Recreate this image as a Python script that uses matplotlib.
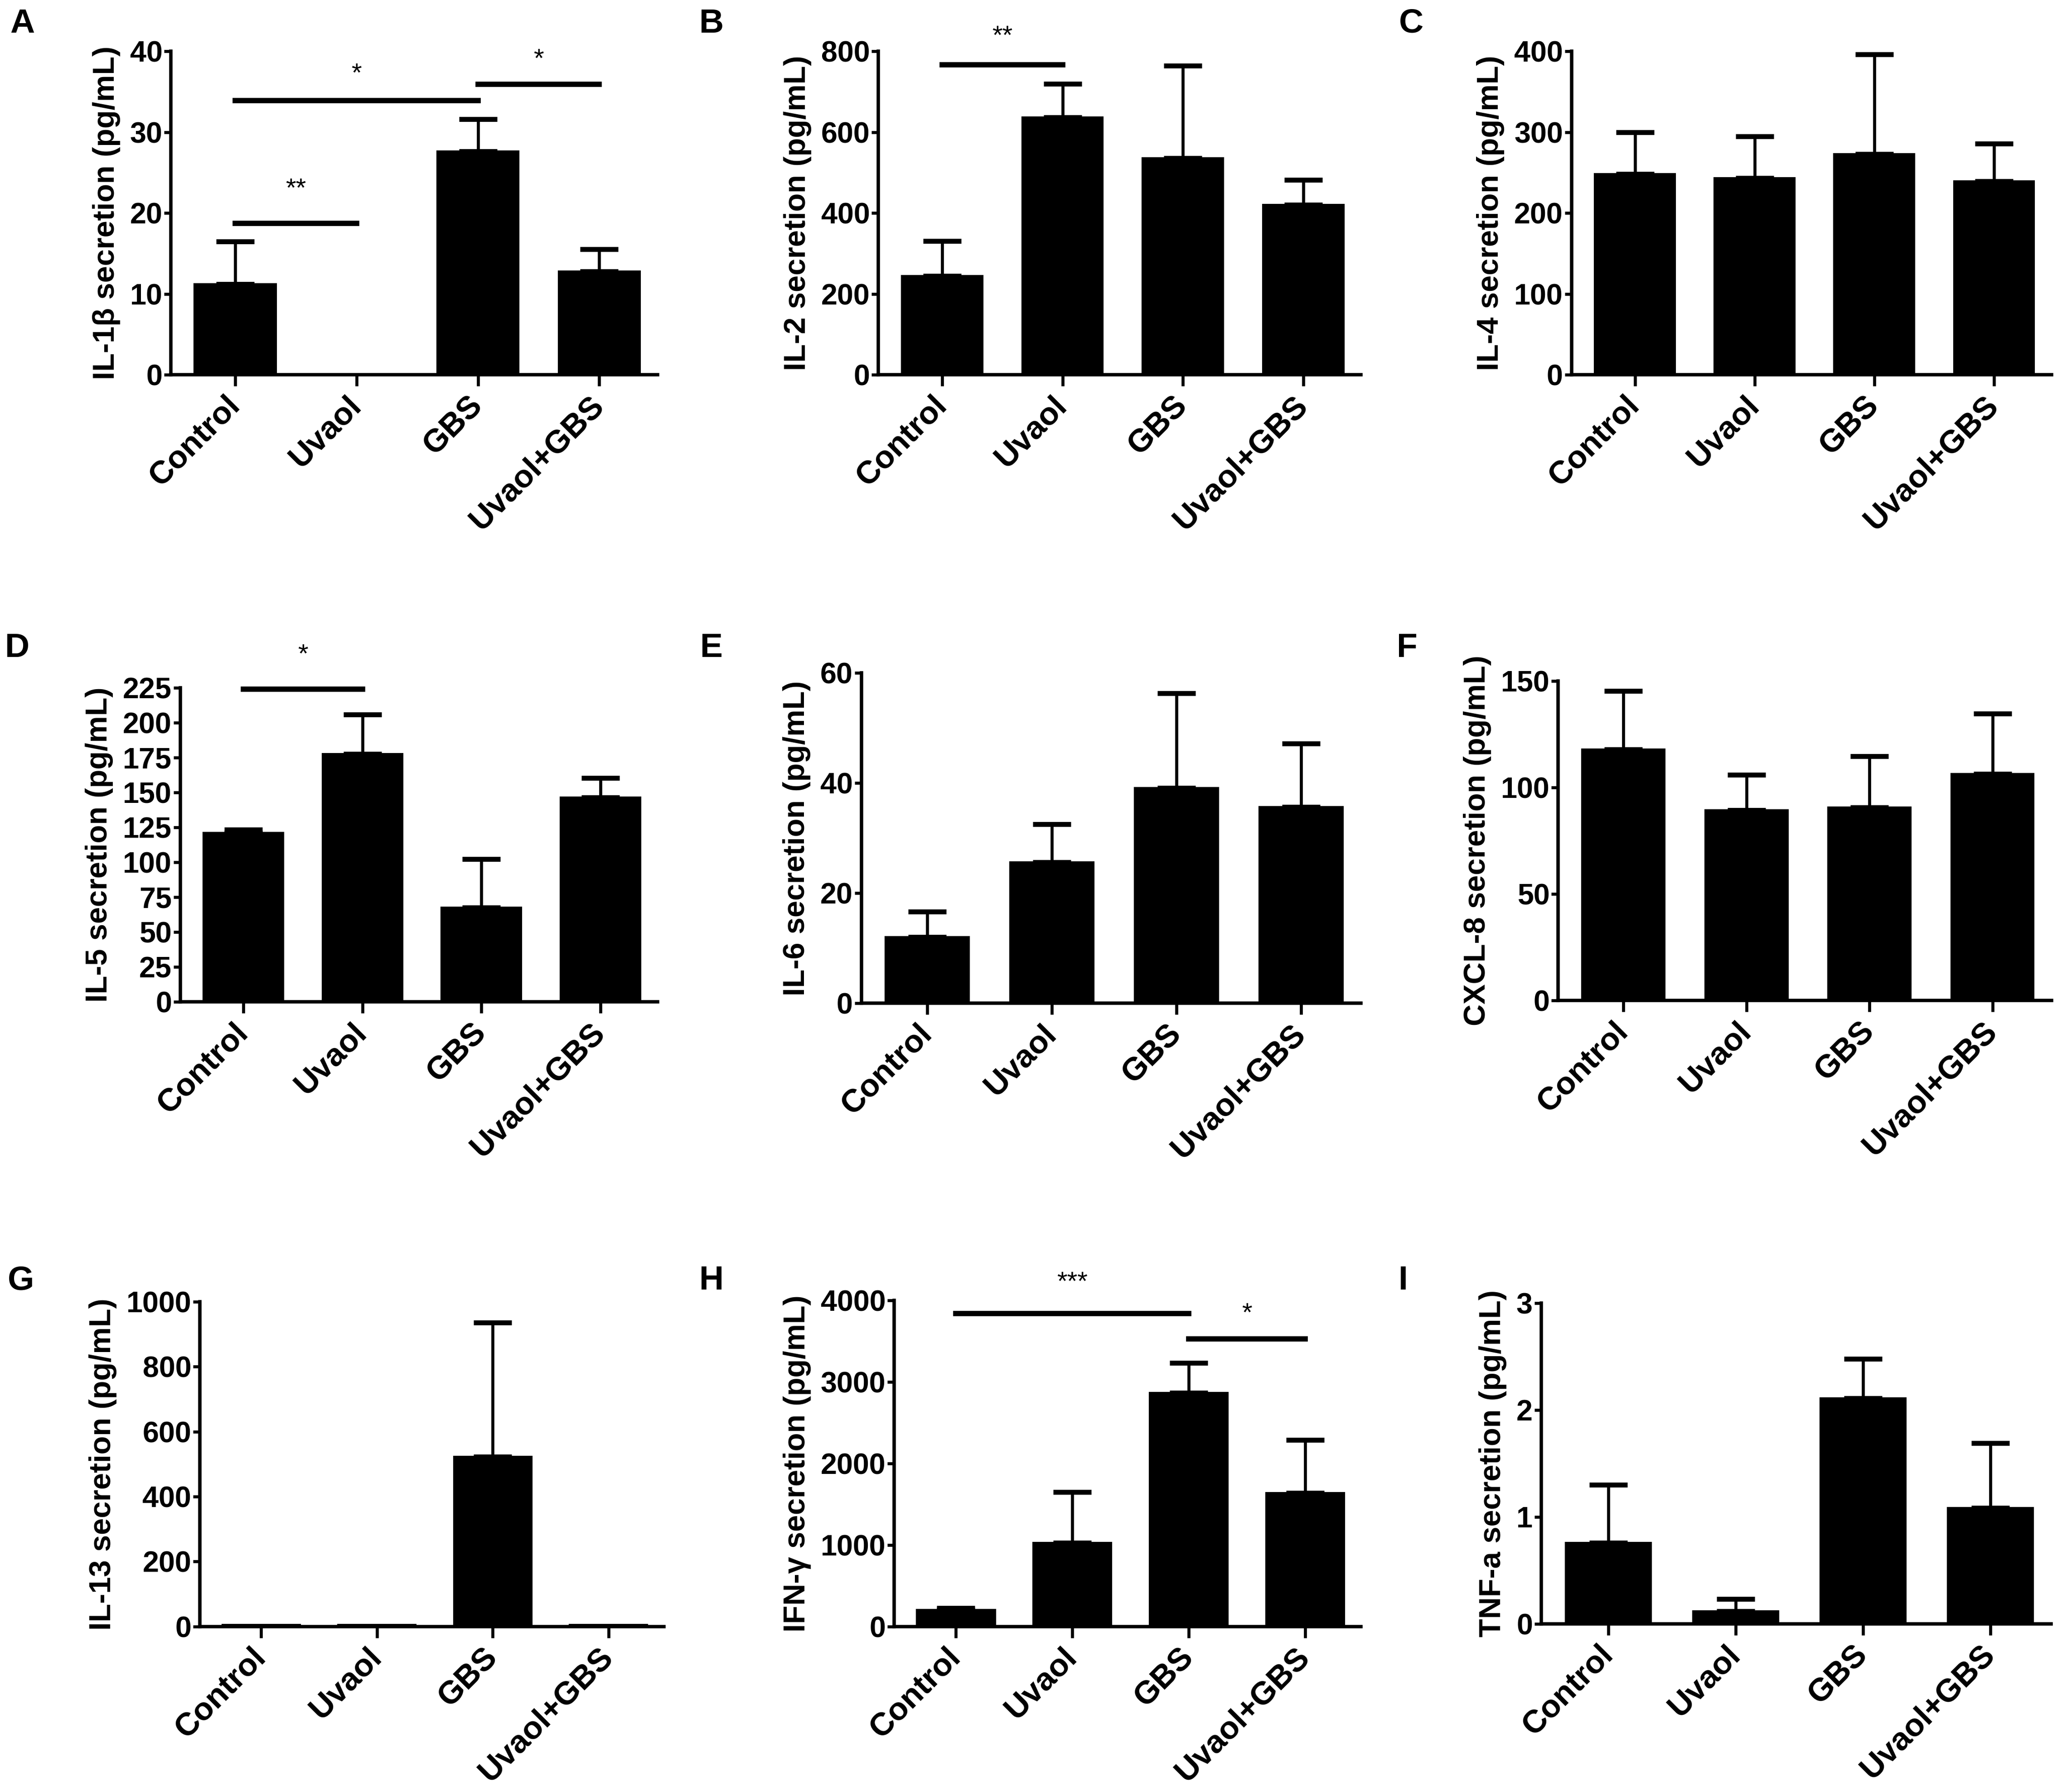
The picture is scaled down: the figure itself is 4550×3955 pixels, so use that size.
import numpy as np
import matplotlib
matplotlib.use('Agg')
import matplotlib.pyplot as plt

plt.rcParams['font.family'] = ['Liberation Sans', 'DejaVu Sans']
plt.rcParams['font.weight'] = 'bold'

groups = ['Control', 'Uvaol', 'GBS', 'Uvaol+GBS']

# means and upper SEM
il1b = [11.2, 0.0, 27.6, 12.8]
il1b_err = [5.3, 0.0, 4.0, 2.7]
il2 = [244, 637, 536, 420]
il2_err = [87, 83, 228, 62]
il4 = [248, 243, 273, 239]
il4_err = [52, 52, 123, 47]
il5 = [121, 177.6, 67.4, 146.3]
il5_err = [2.4, 28, 35, 14]
il6 = [12.0, 25.6, 39.1, 35.7]
il6_err = [4.6, 6.9, 17.2, 11.5]
cxcl8 = [117.9, 89.3, 90.7, 106.4]
cxcl8_err = [27.3, 16.6, 24.0, 28.2]
il13 = [5, 5, 523, 5]
il13_err = [0, 0, 413, 0]
ifng = [205, 1024, 2864, 1639]
ifng_err = [22, 624, 370, 646]
tnfa = [0.755, 0.119, 2.109, 1.082]
tnfa_err = [0.545, 0.112, 0.367, 0.608]

ylabels = ['IL-1β secretion (pg/mL)', 'IL-2 secretion (pg/mL)', 'IL-4 secretion (pg/mL)',
           'IL-5 secretion (pg/mL)', 'IL-6 secretion (pg/mL)', 'CXCL-8 secretion (pg/mL)',
           'IL-13 secretion (pg/mL)', 'IFN-γ secretion (pg/mL)', 'TNF-a secretion (pg/mL)']
letters = ['A', 'B', 'C', 'D', 'E', 'F', 'G', 'H', 'I']
ytops = [40, 800, 400, 225, 60, 150, 1000, 4000, 3]
ysteps = [10, 200, 100, 25, 20, 50, 200, 1000, 1]

# significance bars: (from group, to group, line height, star height, label)
sig = {
    0: [(0, 1, 18.7, 22.9, '**'), (0, 2, 33.9, 37.1, '*'), (2, 3, 35.9, 38.9, '*')],
    1: [(0, 1, 767, 835, '**')],
    3: [(0, 1, 224, 248, '*')],
    7: [(0, 2, 3839, 4210, '***'), (2, 3, 3527, 3830, '*')],
}

data = [(il1b, il1b_err), (il2, il2_err), (il4, il4_err), (il5, il5_err), (il6, il6_err),
        (cxcl8, cxcl8_err), (il13, il13_err), (ifng, ifng_err), (tnfa, tnfa_err)]

# axes boxes (left, bottom, width, height) in figure fraction
boxes = [
    (0.0829, 0.7909, 0.2360, 0.1805), (0.4260, 0.7909, 0.2340, 0.1805), (0.7621, 0.7909, 0.2328, 0.1805),
    (0.0874, 0.4409, 0.2315, 0.1754), (0.4177, 0.4402, 0.2423, 0.1842), (0.7557, 0.4417, 0.2392, 0.1783),
    (0.0969, 0.0924, 0.2251, 0.1812), (0.4337, 0.0924, 0.2264, 0.1820), (0.7474, 0.0939, 0.2474, 0.1790),
]
letter_pos = [(0.0108, 0.9868), (0.345, 0.9868), (0.6843, 0.9868),
              (0.0083, 0.6383), (0.345, 0.6383), (0.6824, 0.6383),
              (0.0102, 0.2853), (0.345, 0.2853), (0.6805, 0.2853)]

fig = plt.figure(figsize=(4550 / 300, 3955 / 300), dpi=300)
x = np.arange(len(groups))

for k in range(9):
    ax = fig.add_axes(boxes[k])
    vals, errs = data[k]
    ax.bar(x, vals, width=0.67, color='black', edgecolor='black', zorder=2)
    keep = [i for i in range(4) if errs[i] > 0]
    ax.errorbar(x[keep], np.array(vals)[keep],
                yerr=[np.zeros(len(keep)), np.array(errs)[keep]],
                fmt='none', ecolor='black', elinewidth=1.6, capsize=10, capthick=2.6, zorder=1)
    ax.set_xlim(-0.53, 3.48)
    ax.set_ylim(0, ytops[k])
    ax.set_yticks(np.arange(0, ytops[k] + ysteps[k] / 2, ysteps[k]))
    ax.set_xticks(x)
    ax.set_xticklabels(groups, rotation=45, ha='right', va='center', rotation_mode='anchor',
                       fontsize=17, fontweight='bold')
    for lab in ax.get_yticklabels():
        lab.set_fontsize(15.5)
        lab.set_fontweight('bold')
    ax.tick_params(axis='y', length=3.5, width=1.6, pad=1)
    ax.tick_params(axis='x', length=6, width=1.6, pad=8)
    ax.spines['top'].set_visible(False)
    ax.spines['right'].set_visible(False)
    ax.spines['left'].set_linewidth(1.8)
    ax.spines['bottom'].set_linewidth(1.8)
    ax.set_ylabel(ylabels[k], fontsize=16, fontweight='bold', labelpad=5)

    for (a, b, yl, ys, s) in sig.get(k, []):
        ax.plot([a, b], [yl, yl], color='black', lw=2.8, clip_on=False, zorder=3)
        ax.text((a + b) / 2, ys, s, ha='center', va='center', fontsize=14,
                fontweight='normal', clip_on=False)

    fig.text(letter_pos[k][0], letter_pos[k][1], letters[k], ha='center', va='center',
             fontsize=18, fontweight='bold')

fig.savefig('out.png', dpi=300, facecolor='white')
